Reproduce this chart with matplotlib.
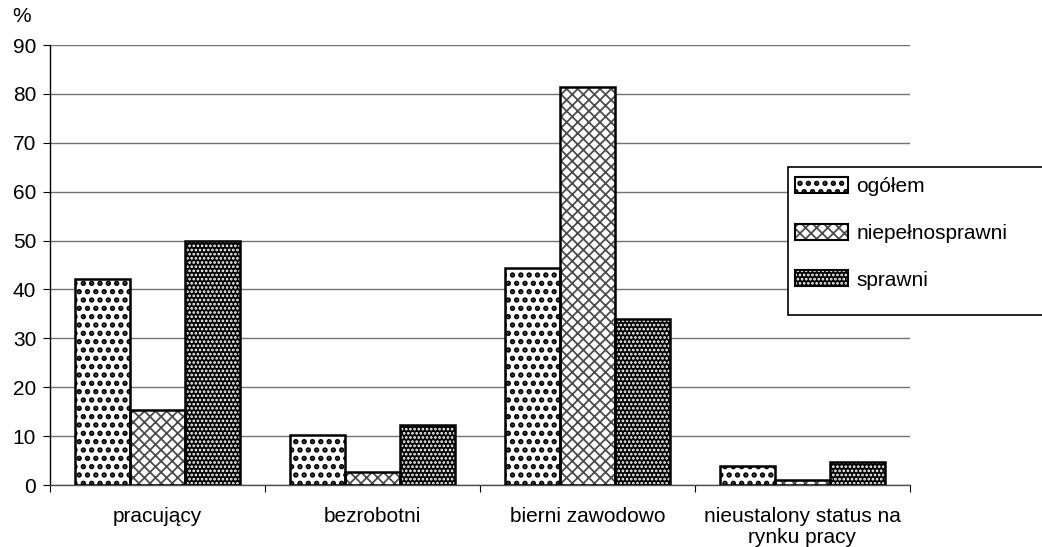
import numpy as np
import matplotlib.pyplot as plt
from matplotlib.patches import Rectangle, Patch

plt.rcParams["font.family"] = ["Liberation Sans", "DejaVu Sans"]

categories = ["pracujący", "bezrobotni", "bierni zawodowo", "nieustalony status na\nrynku pracy"]
series = ["ogółem", "niepełnosprawni", "sprawni"]
ogolem = [42.1, 10.2, 44.3, 3.9]
niepelnosprawni = [15.4, 2.7, 81.5, 1.0]
sprawni = [49.9, 12.2, 33.9, 4.8]
yticks = list(range(0, 100, 10))

# fill, hatch colour, hatch, hatch linewidth
styles = [
    ("white", "black", "..", 2.6),
    ("white", "0.3", "xxx", 1.3),
    ("black", "white", "....", 1.3),
]


def set_hlw(patch, lw):
    if hasattr(patch, "set_hatch_linewidth"):
        patch.set_hatch_linewidth(lw)


fig = plt.figure(figsize=(10.42, 5.47), dpi=100)
ax = fig.add_axes([0.048, 0.1133, 0.825, 0.8044])

x = np.arange(len(categories))
w = 0.256
values = [ogolem, niepelnosprawni, sprawni]
for i, (vals, (fc, hc, h, hlw)) in enumerate(zip(values, styles)):
    pos = x + (i - 1) * w
    with plt.rc_context({"hatch.linewidth": hlw}):
        bars = ax.bar(pos, vals, w, color=fc, edgecolor=hc, hatch=h, linewidth=0, zorder=2)
        for b in bars:
            set_hlw(b, hlw)
    ax.bar(pos, vals, w, facecolor="none", edgecolor="black", linewidth=1.8, zorder=3)

ax.set_xlim(-0.5, len(categories) - 0.5)
ax.set_ylim(0, 90)
ax.set_yticks(yticks)
ax.yaxis.grid(True, color="0.45", linewidth=1)
ax.set_axisbelow(True)
for s in ["top", "right"]:
    ax.spines[s].set_visible(False)
ax.spines["left"].set_linewidth(1)
ax.spines["bottom"].set_linewidth(1)
ax.spines["bottom"].set_color("0.3")

ax.set_xticks(np.arange(-0.5, len(categories), 1.0))
ax.set_xticklabels([])
ax.set_xticks(x, minor=True)
ax.set_xticklabels(categories, minor=True, fontsize=15, linespacing=1.1)
ax.tick_params(axis="x", which="minor", length=0, pad=16)
ax.tick_params(axis="x", which="major", length=5, direction="out")
ax.tick_params(axis="y", length=5, direction="out", labelsize=15, pad=5)

fig.text(12 / 1042, 1 - 17 / 547, "%", fontsize=15, va="center", ha="left")

# legend box (runs off the right edge)
fig.patches.append(Rectangle((788 / 1042, 1 - 315 / 547), 300 / 1042, 148 / 547,
                             transform=fig.transFigure, facecolor="white",
                             edgecolor="black", linewidth=1.2, zorder=5))
handles = [Patch(facecolor=fc, edgecolor=hc, hatch=h, linewidth=0) for fc, hc, h, _ in styles]
leg = fig.legend(handles, series, loc="upper left",
                 bbox_to_anchor=(795 / 1042, 1 - 177 / 547), frameon=False,
                 fontsize=15, handlelength=2.55, handleheight=0.8,
                 labelspacing=1.32, handletextpad=0.4, borderaxespad=0,
                 borderpad=0)
leg.set_zorder(6)
for p, st in zip(leg.get_patches(), styles):
    set_hlw(p, st[3])

# black outline round each legend key
fig.canvas.draw()
inv = fig.transFigure.inverted()
for p in leg.get_patches():
    bb = p.get_window_extent().transformed(inv)
    fig.patches.append(Rectangle((bb.x0, bb.y0), bb.width, bb.height,
                                 transform=fig.transFigure, facecolor="none",
                                 edgecolor="black", linewidth=1.5, zorder=7))

fig.savefig("out.png", dpi=100)
